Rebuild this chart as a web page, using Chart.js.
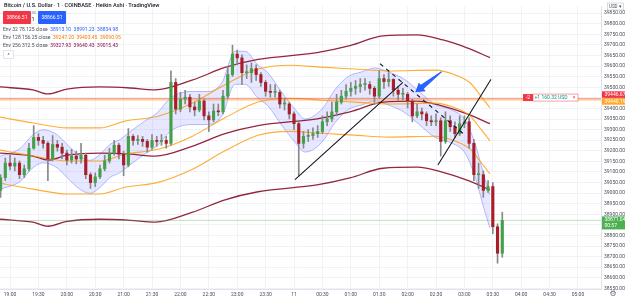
<!DOCTYPE html>
<html>
<head>
<meta charset="utf-8">
<script src="https://cdn.jsdelivr.net/npm/chart.js@4.4.0/dist/chart.umd.min.js"></script>
<style>
body { margin: 0; background: #fff; }
#wrap { position: relative; width: 625px; height: 300px; font-family: Roboto, "Liberation Sans", sans-serif; }
#wrap canvas { position: absolute; left: 0; top: 0; }
.lg { position: absolute; white-space: nowrap; color: #4a4e5a; font-size: 5px; line-height: 6px; }
.box { position: absolute; width: 28px; height: 13px; line-height: 13px; text-align: center; color: #fff; font-size: 5px; border-radius: 1px; }
.btn { position: absolute; left: 3px; top: 50px; width: 9px; height: 7px; border: 1px solid #dfe2ea; border-radius: 1px; font-size: 5px; line-height: 8px; text-align: center; color: #444; background: #fff; }
</style>
</head>
<body>
<div id="wrap">
  <canvas id="chart" width="625" height="300"></canvas>
  <div class="lg" style="top:2px;left:4px;font-size:5.6px;font-weight:500;color:#131722">Bitcoin / U.S. Dollar · 1 · COINBASE · Heikin Ashi · TradingView</div>
  <div class="box" style="left:3px;top:11px;background:#f23645">38866.51</div>
  <div class="lg" style="left:29px;top:11px;font-size:3.5px;line-height:4px;color:#787b86">0.00</div>
  <div class="lg" style="left:31.5px;top:16px;font-size:5.5px;color:#131722">1</div>
  <div class="box" style="left:38px;top:11px;background:#2962ff">38866.51</div>
  <div class="lg" style="top:26px;left:3px">Env 32 78.125 close &nbsp;<span style="color:#2962ff">38913.10 &nbsp;38991.23 &nbsp;38834.98</span></div>
  <div class="lg" style="top:34px;left:3px">Env 128 156.25 close &nbsp;<span style="color:#f57c00">39247.20 &nbsp;39403.45 &nbsp;39090.95</span></div>
  <div class="lg" style="top:42px;left:3px">Env 256 312.5 close &nbsp;<span style="color:#880e4f">39327.93 &nbsp;39640.43 &nbsp;39015.43</span></div>
  <div class="btn">^</div>
</div>
<script>
// time axis: minutes after 19:00, one label every 30 min
var timeLabels = ["19:00","19:30","20:00","20:30","21:00","21:30","22:00","22:30","23:00","23:30","11",
                  "00:30","01:00","01:30","02:00","02:30","03:00","03:30","04:00","04:30","05:00"];
var priceTicks = [38550,38600,38650,38700,38750,38800,38850,38900,38950,39000,39050,39100,39150,39200,
                  39250,39300,39350,39400,39450,39500,39550,39600,39650,39700,39750,39800,39850];

// Heikin Ashi candles, 5 minute steps starting 18:50
var candleOpen = [39013,39073,39142,39128,39142,39087,39115,39212,39263,39249,
                  39235,39161,39230,39217,39189,39156,39175,39161,39179,39087,
                  39050,39077,39115,39152,39189,39226,39184,39133,39268,39249,
                  39254,39244,39217,39249,39244,39249,39235,39523,39397,39444,
                  39453,39407,39393,39435,39365,39346,39388,39384,39458,39560,
                  39657,39639,39569,39569,39588,39560,39523,39481,39476,39476,
                  39421,39421,39374,39328,39235,39268,39272,39281,39291,39337,
                  39351,39384,39430,39458,39481,39495,39504,39513,39513,39495,
                  39458,39541,39527,39537,39486,39467,39467,39435,39365,39384,
                  39374,39342,39337,39342,39244,39342,39314,39281,39328,39337,
                  39235,39087,39087,39013,39031,38841,38716];
var candleHigh = [39087,39166,39179,39166,39152,39133,39235,39319,39281,39268,
                  39244,39272,39249,39235,39203,39207,39198,39235,39189,39096,
                  39096,39133,39179,39212,39249,39235,39198,39305,39277,39272,
                  39268,39254,39277,39268,39277,39268,39578,39541,39476,39486,
                  39467,39430,39467,39444,39384,39421,39421,39486,39597,39699,
                  39676,39653,39606,39615,39606,39569,39532,39513,39513,39486,
                  39448,39430,39384,39337,39291,39300,39309,39319,39365,39384,
                  39430,39467,39486,39513,39523,39532,39541,39541,39527,39504,
                  39578,39560,39569,39541,39504,39495,39476,39444,39421,39402,
                  39384,39365,39374,39356,39384,39365,39337,39365,39365,39356,
                  39254,39142,39105,39059,39050,38855,38910];
var candleLow = [38980,39059,39110,39105,39068,39073,39105,39207,39226,39212,
                 39059,39152,39198,39161,39133,39142,39138,39142,39068,39022,
                 39031,39068,39105,39142,39179,39161,39082,39124,39226,39230,
                 39221,39193,39207,39221,39226,39212,39226,39374,39384,39421,
                 39384,39365,39384,39346,39291,39337,39365,39374,39448,39551,
                 39606,39513,39541,39523,39532,39504,39458,39453,39453,39402,
                 39393,39351,39300,39082,39212,39244,39254,39263,39281,39319,
                 39337,39365,39421,39444,39458,39467,39476,39486,39467,39421,
                 39448,39495,39504,39458,39439,39439,39402,39337,39356,39346,
                 39319,39319,39319,39175,39235,39291,39263,39272,39309,39212,
                 39059,39022,38980,39003,38808,38669,38697];
var candleClose = [39073,39142,39128,39142,39087,39115,39212,39263,39249,39235,
                   39161,39230,39217,39189,39156,39175,39161,39179,39087,39050,
                   39077,39115,39152,39189,39226,39184,39133,39268,39249,39254,
                   39244,39217,39249,39244,39249,39235,39523,39397,39444,39453,
                   39407,39393,39435,39365,39346,39388,39384,39458,39560,39657,
                   39639,39569,39569,39588,39560,39523,39481,39476,39476,39421,
                   39421,39374,39328,39235,39268,39272,39281,39291,39337,39351,
                   39384,39430,39458,39481,39495,39504,39513,39513,39495,39458,
                   39541,39527,39537,39486,39467,39467,39435,39365,39384,39374,
                   39342,39337,39342,39244,39342,39314,39281,39328,39337,39235,
                   39087,39087,39013,39031,38841,38716,38871.04];

// envelope basis lines (x in minutes after 19:00)
var env32Time = [-10.6,10.6,24.3,34.9,49.6,60.2,73.9,84.5,95.1,105.6,116.2,126.8,142.6,156.3,166.9,174.3,190.1,209.2,223.9,237.7,
                 248.2,262,272.5,287.3,301,311.6,329.6,343.3,357,371.8,385.6,399.3,417.2,431,448.9,466.9,480.6,491.2,501.7,507];
var env32Mid = [39096,39133,39198,39221,39198,39152,39096,39077,39105,39152,39175,39212,39263,39305,39360,39384,39402,39402,39444,39592,
                39592,39527,39490,39397,39319,39272,39319,39411,39472,39495,39513,39495,39458,39407,39342,39314,39268,39156,38989,38913.10];
var env128Time = [-10.6,24.3,60.2,95.1,121.5,156.3,192.2,227.1,262,295.8,329.6,364.4,399.3,448.9,473.2,485.9,498.6,507];
var env128Mid = [39203,39175,39152,39152,39184,39207,39268,39356,39430,39448,39439,39430,39421,39425,39397,39365,39295,39247.20];
var env256Time = [-10.6,24.3,40.1,60.2,95.1,126.8,153.2,192.2,227.1,262,324.3,359.1,394,429.9,457.4,482.7,507];
var env256Mid = [39189,39175,39156,39179,39189,39184,39175,39221,39281,39319,39351,39384,39430,39435,39411,39374,39327.93];
var env32Offset = 78.125, env128Offset = 156.25, env256Offset = 312.5;

// horizontal levels
var levelRed = 39446.67, levelOrange = 39440.19, lastPrice = 38871.04;

// drawings
var trendA = [{x: 301, y: 39064}, {x: 415, y: 39523}];
var trendB = [{x: 391, y: 39611}, {x: 478.5, y: 39282}];
var trendC = [{x: 452, y: 39133}, {x: 508, y: 39537}];
var arrowTail = {x: 456, y: 39574}, arrowHead = {x: 428, y: 39476};

var xMin = -10.6, xMax = 624.3;

var bodies = [], wicks = [], bodyColors = [];
for (var i = 0; i < candleClose.length; i++) {
    var t = -10 + i * 5;
    bodies.push({x: t, y: [candleOpen[i], candleClose[i]]});
    wicks.push({x: t, y: [candleLow[i], candleHigh[i]]});
    bodyColors.push(candleClose[i] >= candleOpen[i] ? '#43a047' : '#a91d2b');
}

function envLine(times, mids, off) {
    return times.map(function(t, i) { return {x: t, y: mids[i] + off}; });
}
function level(v) {
    return [{x: xMin, y: v}, {x: xMax, y: v}];
}
function lineSet(data, color, width, order, extra) {
    var ds = {type: 'line', data: data, borderColor: color, borderWidth: width, pointRadius: 0,
              fill: false, order: order, cubicInterpolationMode: 'monotone'};
    for (var k in extra) ds[k] = extra[k];
    return ds;
}

var orange = 'rgba(255,152,0,0.8)';
var maroon = 'rgba(136,14,40,0.9)';

var datasets = [
    lineSet(trendA, '#131722', 1.1, 0),
    lineSet(trendB, '#131722', 1.1, 0, {borderDash: [4, 4]}),
    lineSet(trendC, '#131722', 1.1, 0),
    {type: 'bar', data: bodies, backgroundColor: bodyColors, barThickness: 2.5, grouped: false, minBarLength: 1, order: 1},
    {type: 'bar', data: wicks, backgroundColor: '#888888', barThickness: 1, grouped: false, order: 2},
    lineSet(level(levelRed), 'rgba(242,54,69,0.5)', 1, 3, {cubicInterpolationMode: 'default'}),
    lineSet(level(levelOrange), 'rgba(255,167,38,0.65)', 1.2, 3, {cubicInterpolationMode: 'default'}),
    lineSet(level(lastPrice), 'rgba(76,175,80,0.35)', 1, 3, {cubicInterpolationMode: 'default'}),
    lineSet(envLine(env128Time, env128Mid, env128Offset), orange, 1.1, 4),
    lineSet(envLine(env128Time, env128Mid, 0), orange, 1.1, 4),
    lineSet(envLine(env128Time, env128Mid, -env128Offset), orange, 1.1, 4),
    lineSet(envLine(env256Time, env256Mid, env256Offset), maroon, 1.3, 4),
    lineSet(envLine(env256Time, env256Mid, 0), maroon, 1.3, 4),
    lineSet(envLine(env256Time, env256Mid, -env256Offset), maroon, 1.3, 4),
    lineSet(envLine(env32Time, env32Mid, env32Offset), 'rgba(92,105,255,0.55)', 0.8, 5,
            {fill: '+1', backgroundColor: 'rgba(110,120,255,0.17)'}),
    lineSet(envLine(env32Time, env32Mid, -env32Offset), 'rgba(92,105,255,0.55)', 0.8, 5)
];

// price tags, position box and arrow
var overlayPlugin = {
    id: 'overlay',
    afterDatasetsDraw: function(chart) {
        var ctx = chart.ctx, xs = chart.scales.x, ys = chart.scales.y;
        var ax = chart.chartArea.right + 1;

        // arrow marker
        var tx = xs.getPixelForValue(arrowTail.x), ty = ys.getPixelForValue(arrowTail.y);
        var hx = xs.getPixelForValue(arrowHead.x), hy = ys.getPixelForValue(arrowHead.y);
        var dx = hx - tx, dy = hy - ty, len = Math.sqrt(dx * dx + dy * dy);
        var ux = dx / len, uy = dy / len, nx = -uy, ny = ux;
        var bx = hx - ux * 9, by = hy - uy * 9;
        ctx.save();
        ctx.fillStyle = '#2962ff';
        ctx.beginPath();
        ctx.moveTo(tx + nx * 0.6, ty + ny * 0.6);
        ctx.lineTo(bx + nx * 2.5, by + ny * 2.5);
        ctx.lineTo(bx + nx * 5.5, by + ny * 5.5);
        ctx.lineTo(hx, hy);
        ctx.lineTo(bx - nx * 5.5, by - ny * 5.5);
        ctx.lineTo(bx - nx * 2.5, by - ny * 2.5);
        ctx.lineTo(tx - nx * 0.6, ty - ny * 0.6);
        ctx.closePath();
        ctx.fill();

        // position box on the red level
        var ry = ys.getPixelForValue(levelRed) - 1;
        ctx.fillStyle = '#f23645';
        ctx.fillRect(523, ry - 3.5, 10, 7);
        ctx.fillStyle = '#fff';
        ctx.strokeStyle = 'rgba(242,54,69,0.6)';
        ctx.lineWidth = 0.8;
        ctx.fillRect(533, ry - 3.5, 45, 7);
        ctx.strokeRect(533, ry - 3.5, 45, 7);
        ctx.font = '5px Roboto, sans-serif';
        ctx.textBaseline = 'middle';
        ctx.textAlign = 'center';
        ctx.fillStyle = '#fff';
        ctx.fillText('-2', 528, ry);
        ctx.fillStyle = '#089981';
        ctx.fillText('+1 160.32 USD', 551, ry);
        ctx.fillStyle = '#f23645';
        ctx.fillText('×', 574, ry);

        // tags on the price axis
        function tag(v, shift, bg, text, sub) {
            var y = ys.getPixelForValue(v) + shift;
            var h = sub ? 13 : 6.5;
            ctx.fillStyle = bg;
            ctx.fillRect(ax, y - (sub ? 5.5 : 3.25), 625 - ax, h);
            ctx.fillStyle = '#fff';
            ctx.textAlign = 'left';
            ctx.font = '5px Roboto, sans-serif';
            ctx.fillText(text, ax + 2.5, sub ? y - 2 : y);
            if (sub) ctx.fillText(sub, ax + 2.5, y + 4);
        }
        tag(levelRed, -4, '#f23645', '39446.67');
        tag(levelOrange, 1.5, '#ffa726', '39440.19');
        tag(lastPrice, 1.5, '#4caf50', '38871.04', '00:57');

        // currency box and settings glyph
        ctx.strokeStyle = '#c9ccd6';
        ctx.lineWidth = 0.7;
        ctx.strokeRect(607.5, 3, 16, 7);
        ctx.fillStyle = '#4a4e5a';
        ctx.font = '4.5px Roboto, sans-serif';
        ctx.fillText('USD ▾', 609, 6.7);
        ctx.font = '8px "DejaVu Sans", sans-serif';
        ctx.textAlign = 'center';
        ctx.fillStyle = '#6a6d78';
        ctx.fillText('⚙', 613, 294);
        ctx.restore();
    }
};

new Chart(document.getElementById('chart'), {
    type: 'bar',
    data: {datasets: datasets},
    options: {
        responsive: false,
        animation: false,
        layout: {padding: 0},
        plugins: {legend: {display: false}, tooltip: {enabled: false}},
        scales: {
            x: {
                type: 'linear', min: xMin, max: xMax, offset: false,
                afterBuildTicks: function(scale) {
                    scale.ticks = timeLabels.map(function(l, i) { return {value: i * 30}; });
                },
                afterFit: function(scale) { scale.height = 11; },
                grid: {color: '#f0f2f6', drawTicks: false, offset: false},
                border: {color: '#e0e3eb'},
                ticks: {
                    maxRotation: 0, autoSkip: false, padding: 3, color: '#4a4e5a',
                    font: {size: 5, family: 'Roboto, sans-serif'},
                    callback: function(v) { return timeLabels[Math.round(v / 30)]; }
                }
            },
            y: {
                position: 'right', min: 38547, max: 39884,
                afterBuildTicks: function(scale) {
                    scale.ticks = priceTicks.map(function(v) { return {value: v}; });
                },
                afterFit: function(scale) { scale.width = 24; },
                grid: {color: '#f0f2f6', drawTicks: false},
                border: {color: '#e0e3eb'},
                ticks: {
                    padding: 3, color: '#4a4e5a',
                    font: {size: 5, family: 'Roboto, sans-serif'},
                    callback: function(v) { return v.toFixed(2); }
                }
            }
        }
    },
    plugins: [overlayPlugin]
});
</script>
</body>
</html>
